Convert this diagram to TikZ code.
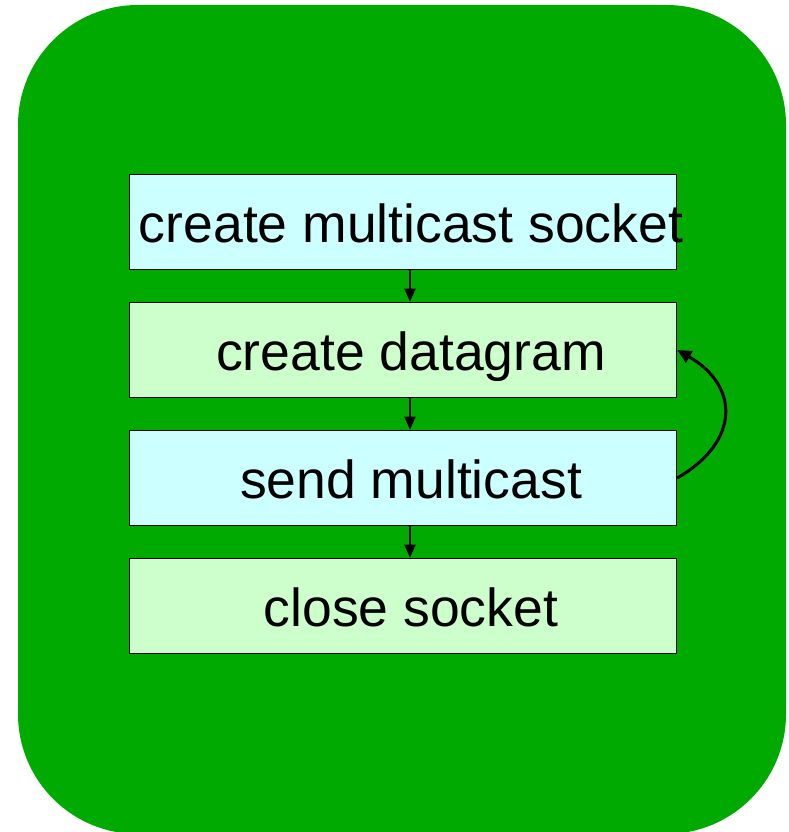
\documentclass[tikz,border=0pt]{standalone}
\usepackage{fontspec}
\setmainfont{Liberation Sans}
\usepackage{tikz}
\usetikzlibrary{arrows.meta, positioning}
\definecolor{panelgreen}{RGB}{0,170,0}
\definecolor{lightcyan}{RGB}{204,255,255}
\definecolor{lightmint}{RGB}{204,255,204}

\begin{document}
\begin{tikzpicture}[x=1pt, y=1pt,
	stepbox/.style={draw, line width=1.5pt, minimum width=547pt, minimum height=95pt, inner sep=0pt},
	steptext/.style={font=\fontsize{53.5}{60}\selectfont, text height=38pt, text depth=0pt, xshift=8pt, yshift=-2pt},
	flow/.style={line width=1.4pt, -{Triangle[length=13pt,width=11pt]}}]
	\useasboundingbox (0,0) rectangle (788,832);
	\fill [panelgreen, rounded corners=120pt] (18,-2) rectangle (786,827);
	
	\node [stepbox, fill=lightcyan, label={[steptext]center:create multicast socket}] (socket) at (403,610) {};
	\node [stepbox, fill=lightmint, label={[steptext]center:create datagram}, below=31.5pt of socket] (datagram) {};
	\node [stepbox, fill=lightcyan, label={[steptext]center:send multicast}, below=31.5pt of datagram] (send) {};
	\node [stepbox, fill=lightmint, label={[steptext]center:close socket}, below=31.5pt of send] (close) {};
	
	\draw [flow] ([xshift=7pt]socket.south) -- ([xshift=7pt]datagram.north);
	\draw [flow] ([xshift=7pt]datagram.south) -- ([xshift=7pt]send.north);
	\draw [flow] ([xshift=7pt]send.south) -- ([xshift=7pt]close.north);
	\draw [line width=3pt, -{Triangle[length=14pt,width=13pt]}] (send.east) to[out=30, in=-30, looseness=1.45] (datagram.east);
\end{tikzpicture}
\end{document}
